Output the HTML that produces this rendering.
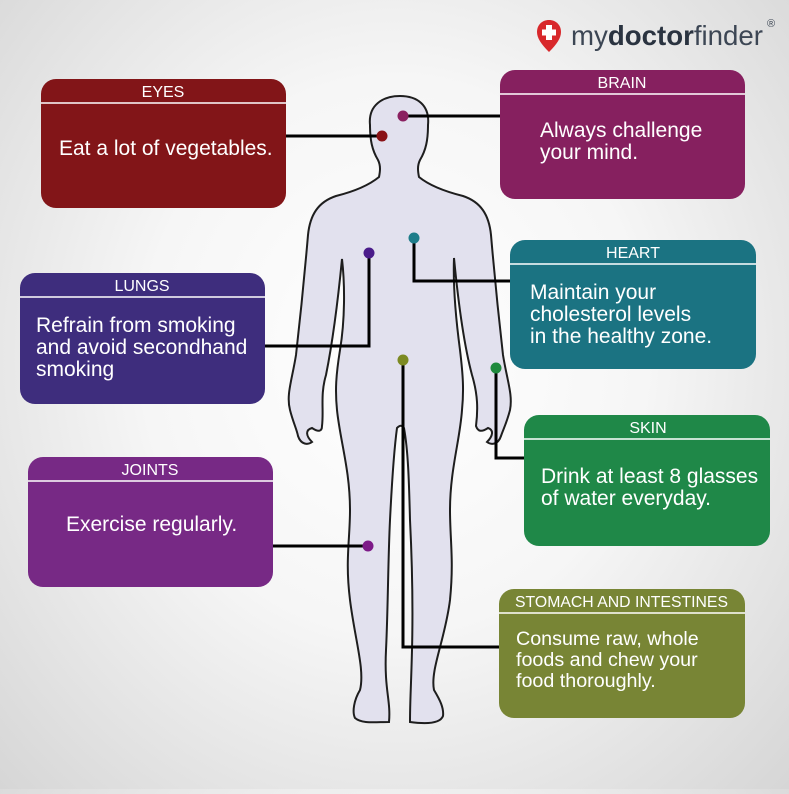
<!DOCTYPE html>
<html><head><meta charset="utf-8"><style>
html,body{margin:0;padding:0}
body{width:789px;height:789px;overflow:hidden;background:radial-gradient(ellipse at 50% 45%,#ffffff 0%,#f6f6f6 45%,#d6d6d6 100%)}
svg text{font-family:"Liberation Sans",Arial,sans-serif;fill:#fff}
</style></head><body>
<svg width="789" height="789" viewBox="0 0 789 789" xmlns="http://www.w3.org/2000/svg">
<path d="M400,96 C383,96 368,105 370,125 C370,140 372,150 378,160 C381,166 380,172 379,177 C368,186 352,192 336,196 C318,202 310,215 308,235 C305,270 300,320 296,355 C292,380 286,395 290,410 C293,422 297,430 298,436 C301,445 308,445 312,442 C306,436 305,430 312,428 C318,432 322,432 322,426 C324,410 320,395 326,375 C332,345 338,300 342,259 C345,285 345,320 340,350 C336,375 335,390 337,410 C340,440 350,470 350,510 C350,540 345,560 350,600 C355,640 365,670 360,690 C354,700 352,712 355,718 C362,724 375,722 389,722 C391,700 384,690 386,650 C388,610 388,560 390,520 C392,480 394,450 397,428 C400,425 402,425 404,428 C408,450 409,480 410,520 C412,560 413,610 412,650 C411,690 410,700 410,722 C425,724 440,724 443,716 C444,708 440,700 434,690 C430,670 445,640 450,600 C454,560 450,540 450,510 C450,470 460,440 462,410 C464,390 463,375 460,350 C456,320 453,285 454,258 C458,300 464,345 472,375 C478,395 478,410 476,426 C478,432 482,432 488,428 C494,430 493,436 487,442 C491,445 498,445 501,436 C503,430 507,422 510,410 C513,395 507,380 503,355 C499,320 494,270 491,235 C489,215 481,202 463,196 C447,192 430,186 419,177 C418,172 417,166 420,160 C426,150 428,140 428,125 C430,105 417,96 400,96 Z" fill="#e2e1ee" stroke="#1e1e1e" stroke-width="2"/>
<g>
<rect x="41" y="79" width="245" height="129" rx="15" fill="#821518"/>
<line x1="41" y1="103" x2="286" y2="103" stroke="#fff" stroke-width="1.5"/>
<text x="163" y="97" font-size="16" text-anchor="middle">EYES</text>
<text x="59" y="155" font-size="21">Eat a lot of vegetables.</text>

<rect x="500" y="70" width="245" height="129" rx="15" fill="#86205f"/>
<line x1="500" y1="94" x2="745" y2="94" stroke="#fff" stroke-width="1.5"/>
<text x="622" y="88" font-size="16" text-anchor="middle">BRAIN</text>
<text x="540" y="137" font-size="21">Always challenge</text>
<text x="540" y="159" font-size="21">your mind.</text>

<rect x="510" y="240" width="246" height="129" rx="15" fill="#1b7382"/>
<line x1="510" y1="264" x2="756" y2="264" stroke="#fff" stroke-width="1.5"/>
<text x="633" y="258" font-size="16" text-anchor="middle">HEART</text>
<text x="530" y="299" font-size="21">Maintain your</text>
<text x="530" y="321" font-size="21">cholesterol levels</text>
<text x="530" y="343" font-size="21">in the healthy zone.</text>

<rect x="20" y="273" width="245" height="131" rx="15" fill="#3e2d7d"/>
<line x1="20" y1="297" x2="265" y2="297" stroke="#fff" stroke-width="1.5"/>
<text x="142" y="291" font-size="16" text-anchor="middle">LUNGS</text>
<text x="36" y="332" font-size="21">Refrain from smoking</text>
<text x="36" y="354" font-size="21">and avoid secondhand</text>
<text x="36" y="376" font-size="21">smoking</text>

<rect x="524" y="415" width="246" height="131" rx="15" fill="#1f8848"/>
<line x1="524" y1="439" x2="770" y2="439" stroke="#fff" stroke-width="1.5"/>
<text x="648" y="433" font-size="16" text-anchor="middle">SKIN</text>
<text x="541" y="483" font-size="21">Drink at least 8 glasses</text>
<text x="541" y="505" font-size="21">of water everyday.</text>

<rect x="28" y="457" width="245" height="130" rx="15" fill="#772985"/>
<line x1="28" y1="481" x2="273" y2="481" stroke="#fff" stroke-width="1.5"/>
<text x="150" y="475" font-size="16" text-anchor="middle">JOINTS</text>
<text x="66" y="531" font-size="21">Exercise regularly.</text>

<rect x="499" y="589" width="246" height="129" rx="15" fill="#788535"/>
<line x1="499" y1="613" x2="745" y2="613" stroke="#fff" stroke-width="1.5"/>
<text x="515" y="607" font-size="15.8">STOMACH AND INTESTINES</text>
<text x="516" y="645" font-size="19.7">Consume raw, whole</text>
<text x="516" y="666" font-size="19.7">foods and chew your</text>
<text x="516" y="687" font-size="19.7">food thoroughly.</text>
</g>
<g fill="none" stroke="#000" stroke-width="3">
<polyline points="286,136 382,136"/>
<polyline points="403,116 500,116"/>
<polyline points="414,238 414,281 510,281"/>
<polyline points="369,253 369,346 265,346"/>
<polyline points="403,360 403,647 499,647"/>
<polyline points="496,368 496,458 524,458"/>
<polyline points="368,546 273,546"/>
</g>
<circle cx="382" cy="136" r="5.5" fill="#8a1216"/>
<circle cx="403" cy="116" r="5.5" fill="#8a2060"/>
<circle cx="414" cy="238" r="5.5" fill="#1e7d8a"/>
<circle cx="369" cy="253" r="5.5" fill="#4a1b8a"/>
<circle cx="403" cy="360" r="5.5" fill="#7c8a22"/>
<circle cx="496" cy="368" r="5.5" fill="#1f8a3d"/>
<circle cx="368" cy="546" r="5.5" fill="#7d1a88"/>
<g>
<path d="M549,52 C541,44 537,38 537,32 C537,25 542,20 549,20 C556,20 561,25 561,32 C561,38 557,44 549,52 Z" fill="#d8282b"/>
<rect x="546" y="25" width="6" height="15" fill="#fff"/>
<rect x="542" y="29.5" width="14" height="6" fill="#fff"/>
<text x="571" y="45" font-size="28" textLength="192" lengthAdjust="spacingAndGlyphs" style="fill:#3c4654">my<tspan font-weight="bold" style="fill:#2a3340">doctor</tspan>finder</text>
<text x="767" y="27" font-size="11" style="fill:#3c4654">®</text>
</g>
</svg>
</body></html>
